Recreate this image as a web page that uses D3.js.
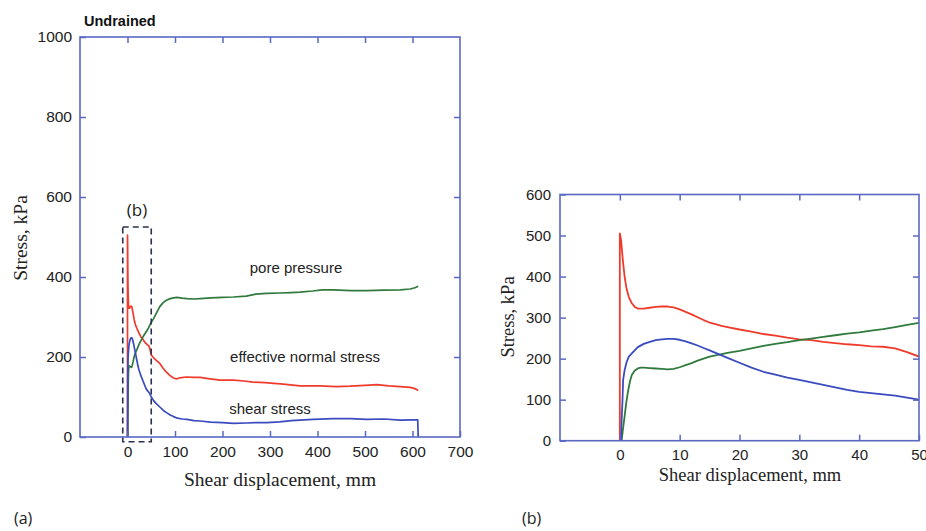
<!DOCTYPE html>
<html><head><meta charset="utf-8">
<script src="https://cdn.jsdelivr.net/npm/d3@7"></script>
<style>
html,body{margin:0;padding:0;background:#fff;}
svg{display:block;}
</style></head>
<body>
<svg id="chart" width="926" height="531"></svg>
<script>
// ---------- DATA ----------
const seriesNames = ["effective normal stress", "pore pressure", "shear stress"];

const normalX = [0, 0, 0.2, 0.5, 0.8, 1.1, 1.5, 2.0, 2.5, 3, 4, 5, 6, 7, 8, 9, 10, 11, 12, 13, 14, 15, 16, 17, 18, 20, 22, 24, 26, 28, 30, 32, 34, 36, 38, 40, 42, 44, 46, 48, 50, 55, 60, 68, 75, 82, 89, 96, 103, 110, 124, 140, 153, 170, 195, 223, 245, 265, 290, 328, 363, 405, 440, 468, 500, 525, 550, 574, 595, 605, 612];
const normalY = [0, 505, 490, 440, 400, 372, 350, 335, 326, 322, 322, 324, 326, 327, 327, 325, 320, 314, 308, 301, 294, 288, 284, 280, 277, 271, 266, 260, 256, 251, 247, 245, 241, 238, 235, 233, 230, 229, 225, 216, 205, 198, 192, 184, 172, 162, 154, 148, 145, 148, 150, 149, 149, 146, 142, 142, 140, 137, 136, 132, 128, 128, 126, 127, 129, 131, 128, 126, 124, 121, 116];

const poreX = [0.3, 0.5, 0.8, 1.1, 1.4, 1.7, 2.0, 2.5, 3, 3.5, 4, 5, 6, 7, 8, 9, 10, 11, 12, 13, 14, 15, 16, 18, 20, 22, 24, 26, 28, 30, 32, 34, 36, 38, 40, 42, 44, 46, 48, 50, 55, 60, 68, 75, 82, 90, 97, 104, 115, 125, 140, 153, 175, 200, 223, 250, 270, 293, 320, 345, 363, 390, 410, 433, 470, 503, 540, 574, 595, 605, 612];
const poreY = [0, 25, 60, 95, 123, 145, 160, 171, 176, 178, 178, 177, 176, 175, 174, 175, 179, 184, 189, 195, 200, 205, 208, 214, 219, 225, 231, 236, 240, 245, 249, 253, 257, 261, 264, 268, 272, 277, 282, 287, 296, 308, 326, 336, 342, 346, 348, 349, 347, 346, 345, 346, 348, 349, 350, 352, 357, 359, 360, 361, 362, 365, 368, 368, 366, 366, 367, 368, 370, 373, 377];

const shearX = [0.2, 0.3, 0.45, 0.55, 0.8, 1.1, 1.5, 2.2, 3, 4, 5, 6, 7, 8, 9, 10, 11, 12, 13, 14, 15, 16, 18, 20, 22, 24, 26, 28, 30, 32, 34, 36, 38, 40, 42, 44, 46, 48, 50, 55, 60, 68, 75, 82, 90, 97, 105, 115, 125, 140, 153, 175, 200, 223, 250, 270, 293, 320, 345, 363, 390, 433, 470, 503, 540, 574, 600, 611, 612];
const shearY = [0, 50, 100, 148, 172, 190, 205, 216, 228, 236, 241, 245, 247, 248, 248, 246, 242, 237, 232, 226, 220, 214, 202, 190, 178, 168, 161, 154, 148, 142, 136, 130, 124, 119, 116, 113, 110, 105, 100, 91, 84, 75, 67, 61, 55, 51, 47, 45, 44, 41, 40, 37, 36, 34, 35, 36, 36, 38, 41, 42, 44, 46, 46, 44, 45, 42, 43, 43, 0];

const ticksAX = [0, 100, 200, 300, 400, 500, 600, 700];
const ticksAY = [0, 200, 400, 600, 800, 1000];
const ticksBX = [0, 10, 20, 30, 40, 50];
const ticksBY = [0, 100, 200, 300, 400, 500, 600];
const zoomBox = {x0: -10, x1: 50, y0: -12, y1: 525};

// ---------- STYLE ----------
const colors = {normal: "#ef3b2c", pore: "#2f7a3c", shear: "#3a4bbf"};
const frameColor = "#5a68c2";
const sans = "'Liberation Sans', Arial, Helvetica, sans-serif";
const serif = "'Liberation Serif', 'Times New Roman', serif";

const svg = d3.select("#chart");

function zip(xs, ys){ return xs.map((x,i)=>({x:x, y:ys[i]})); }
const normalData = zip(normalX, normalY);
const poreData = zip(poreX, poreY);
const shearData = zip(shearX, shearY);

function panel(cfg){
  const g = svg.append("g");
  const x = d3.scaleLinear().domain(cfg.xDomain).range([cfg.left, cfg.right]);
  const y = d3.scaleLinear().domain(cfg.yDomain).range([cfg.bottom, cfg.top]);

  const clipId = "clip" + cfg.id;
  svg.append("clipPath").attr("id", clipId).append("rect")
    .attr("x", cfg.left).attr("y", cfg.top - 2)
    .attr("width", cfg.right - cfg.left).attr("height", cfg.bottom - cfg.top + 2);

  const line = d3.line().x(d=>x(d.x)).y(d=>y(d.y));
  const lines = g.append("g").attr("clip-path", `url(#${clipId})`);
  [[normalData, colors.normal], [poreData, colors.pore], [shearData, colors.shear]].forEach(([d,c])=>{
    lines.append("path").datum(d).attr("d", line)
      .attr("fill","none").attr("stroke", c).attr("stroke-width", cfg.lw)
      .attr("stroke-linejoin","round");
  });

  const fs = cfg.tickFont;
  const inner = ticks => ticks.filter(t => t > cfg.xDomain[0] && t < cfg.xDomain[1]);
  const innerY = ticks => ticks.filter(t => t > cfg.yDomain[0] && t < cfg.yDomain[1]);

  const ax = g.append("g").attr("transform", `translate(0,${cfg.bottom})`)
    .call(d3.axisBottom(x).tickValues(cfg.xTicks).tickSize(-6).tickPadding(9).tickFormat(d3.format("d")));
  const ay = g.append("g").attr("transform", `translate(${cfg.left},0)`)
    .call(d3.axisLeft(y).tickValues(cfg.yTicks).tickSize(-6).tickPadding(cfg.yPad).tickFormat(d3.format("d")));
  const at = g.append("g").attr("transform", `translate(0,${cfg.top})`)
    .call(d3.axisTop(x).tickValues(inner(cfg.xTicks)).tickSize(-6).tickFormat(""));
  const ar = g.append("g").attr("transform", `translate(${cfg.right},0)`)
    .call(d3.axisRight(y).tickValues(innerY(cfg.yTicks)).tickSize(-6).tickFormat(""));
  [ax, ay, at, ar].forEach(a=>{
    a.select(".domain").remove();
    a.selectAll("line").attr("stroke", frameColor).attr("stroke-width", 1.5);
    a.selectAll("text").attr("font-family", sans).attr("font-size", fs).attr("fill", "#222");
  });

  g.append("rect").attr("x", cfg.left).attr("y", cfg.top)
    .attr("width", cfg.right - cfg.left).attr("height", cfg.bottom - cfg.top)
    .attr("fill","none").attr("stroke", frameColor).attr("stroke-width", 1.6);

  g.append("text").attr("x", cfg.xTitle[0]).attr("y", cfg.xTitle[1])
    .attr("text-anchor","middle").attr("font-family", serif).attr("font-size", cfg.titleFont)
    .attr("fill","#222").text("Shear displacement, mm");
  g.append("text").attr("transform", `translate(${cfg.yTitle[0]},${cfg.yTitle[1]}) rotate(-90)`)
    .attr("text-anchor","middle").attr("dy","0.35em").attr("font-family", serif).attr("font-size", cfg.titleFont)
    .attr("fill","#222").text("Stress, kPa");
  return {g, x, y};
}

const A = panel({id:"a", left:80, right:460, top:37, bottom:437,
  xDomain:[-100,700], yDomain:[0,1000], xTicks:ticksAX, yTicks:ticksAY,
  lw:1.7, tickFont:15.5, yPad:8, titleFont:19.5, xTitle:[280,486], yTitle:[20,238]});

const B = panel({id:"b", left:560, right:919, top:194.5, bottom:440.7,
  xDomain:[-10,50], yDomain:[0,600], xTicks:ticksBX, yTicks:ticksBY,
  lw:1.8, tickFont:15, yPad:9, titleFont:18.5, xTitle:[750,481], yTitle:[508,317]});

// zoom box in panel a
A.g.append("rect")
  .attr("x", A.x(zoomBox.x0)).attr("y", A.y(zoomBox.y1))
  .attr("width", A.x(zoomBox.x1) - A.x(zoomBox.x0))
  .attr("height", A.y(zoomBox.y0) - A.y(zoomBox.y1))
  .attr("fill","none").attr("stroke","#2b3050").attr("stroke-width",1.6)
  .attr("stroke-dasharray","6,4");
A.g.append("text").attr("x", A.x((zoomBox.x0+zoomBox.x1)/2)).attr("y", A.y(zoomBox.y1) - 11)
  .attr("text-anchor","middle").attr("font-family", "'Open Sans', sans-serif").attr("font-size", 17)
  .attr("fill","#222").text("(b)");

// series labels in panel a
const labelPos = [[296, 268], [305, 357], [270, 409]];
const labelText = [seriesNames[1], seriesNames[0], seriesNames[2]];
labelText.forEach((t,i)=>{
  A.g.append("text").attr("x", labelPos[i][0]).attr("y", labelPos[i][1]).attr("dy","0.35em")
    .attr("text-anchor","middle").attr("font-family", sans).attr("font-size", 15).attr("fill","#222").text(t);
});

svg.append("text").attr("x", 84).attr("y", 26).attr("font-family", sans).attr("font-weight","bold")
  .attr("font-size", 14.5).attr("fill","#111").text("Undrained");

svg.append("text").attr("x", 14).attr("y", 524).attr("font-family", "'Open Sans', sans-serif")
  .attr("font-size", 16).attr("fill","#222").text("(a)");
svg.append("text").attr("x", 522).attr("y", 524).attr("font-family", "'Open Sans', sans-serif")
  .attr("font-size", 16).attr("fill","#222").text("(b)");
</script>
</body></html>
